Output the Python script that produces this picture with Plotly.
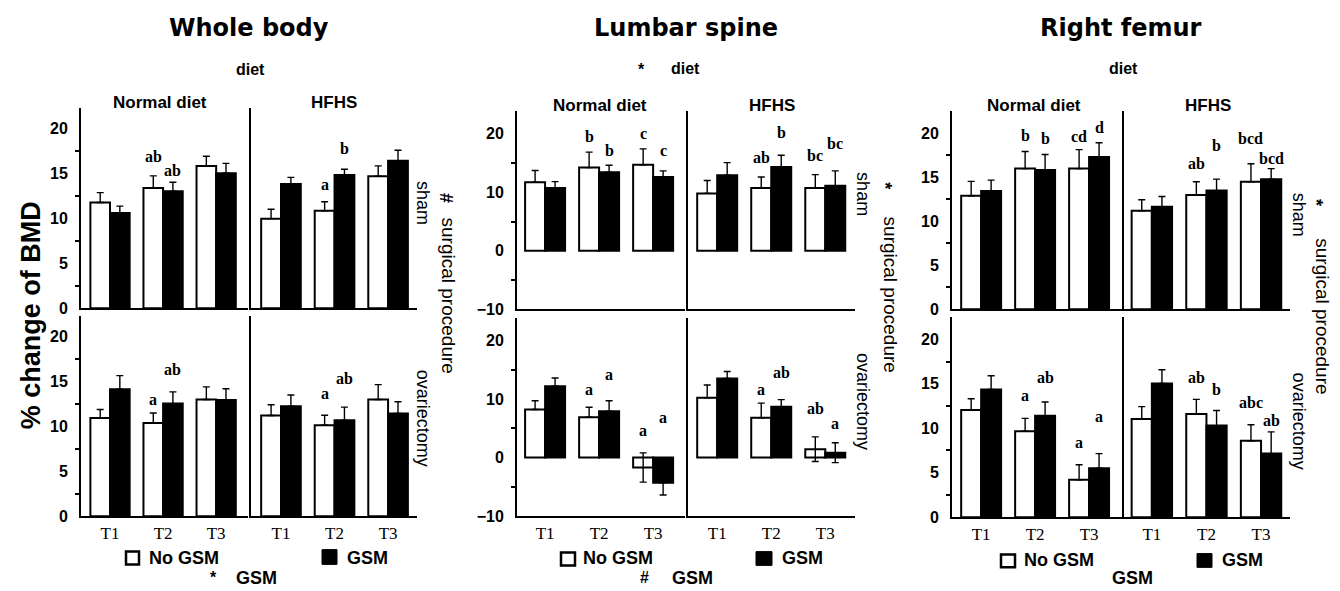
import plotly.graph_objects as go

W, H = 1340, 591
TIMES = ["T1", "T2", "T3"]
SANS = "Liberation Sans, Arial, sans-serif"
VERD = "DejaVu Sans, Verdana, sans-serif"
SERIF = "Liberation Serif, Times New Roman, serif"

# ---------------- data: Whole body ----------------
wb_sham_nd_no = [11.75, 13.36, 15.8];   wb_sham_nd_no_err = [1.1, 1.35, 1.1]
wb_sham_nd_gsm = [10.6, 13.0, 15.0];    wb_sham_nd_gsm_err = [0.75, 1.0, 1.1]
wb_sham_hf_no = [9.96, 10.84, 14.67];   wb_sham_hf_no_err = [1.05, 1.0, 1.15]
wb_sham_hf_gsm = [13.8, 14.8, 16.4];    wb_sham_hf_gsm_err = [0.75, 0.65, 1.15]
wb_ovx_nd_no = [10.9, 10.33, 12.96];    wb_ovx_nd_no_err = [0.95, 1.13, 1.4]
wb_ovx_nd_gsm = [14.1, 12.5, 12.9];     wb_ovx_nd_gsm_err = [1.5, 1.3, 1.25]
wb_ovx_hf_no = [11.17, 10.1, 12.96];    wb_ovx_hf_no_err = [1.2, 1.1, 1.65]
wb_ovx_hf_gsm = [12.2, 10.66, 11.4];    wb_ovx_hf_gsm_err = [1.25, 1.45, 1.3]
wb_sham_nd_no_lab = ["", "ab", ""];  wb_sham_nd_gsm_lab = ["", "ab", ""]
wb_sham_hf_no_lab = ["", "a", ""];   wb_sham_hf_gsm_lab = ["", "b", ""]
wb_ovx_nd_no_lab = ["", "a", ""];    wb_ovx_nd_gsm_lab = ["", "ab", ""]
wb_ovx_hf_no_lab = ["", "a", ""];    wb_ovx_hf_gsm_lab = ["", "ab", ""]

# ---------------- data: Lumbar spine ----------------
ls_sham_nd_no = [11.7, 14.2, 14.7];     ls_sham_nd_no_err = [2.0, 2.65, 2.7]
ls_sham_nd_gsm = [10.7, 13.4, 12.6];    ls_sham_nd_gsm_err = [1.1, 1.2, 1.05]
ls_sham_hf_no = [9.8, 10.7, 10.7];      ls_sham_hf_no_err = [2.2, 1.9, 2.3]
ls_sham_hf_gsm = [12.9, 14.3, 11.1];    ls_sham_hf_gsm_err = [2.15, 2.0, 2.55]
ls_ovx_nd_no = [8.2, 6.9, -1.7];        ls_ovx_nd_no_err = [1.5, 1.7, 2.5];   ls_ovx_nd_no_errlo = [0, 0, 2.5]
ls_ovx_nd_gsm = [12.2, 7.9, -4.3];      ls_ovx_nd_gsm_err = [1.4, 1.8, 0];    ls_ovx_nd_gsm_errlo = [0, 0, 2.1]
ls_ovx_hf_no = [10.2, 6.8, 1.44];       ls_ovx_hf_no_err = [2.2, 2.5, 2.1];   ls_ovx_hf_no_errlo = [0, 0, 2.1]
ls_ovx_hf_gsm = [13.5, 8.7, 0.83];      ls_ovx_hf_gsm_err = [1.2, 1.2, 1.7];  ls_ovx_hf_gsm_errlo = [0, 0, 1.7]
ls_sham_nd_no_lab = ["", "b", "c"];   ls_sham_nd_gsm_lab = ["", "b", "c"]
ls_sham_hf_no_lab = ["", "ab", "bc"]; ls_sham_hf_gsm_lab = ["", "b", "bc"]
ls_ovx_nd_no_lab = ["", "a", "a"];    ls_ovx_nd_gsm_lab = ["", "a", "a"]
ls_ovx_hf_no_lab = ["", "a", "ab"];   ls_ovx_hf_gsm_lab = ["", "ab", "a"]

# ---------------- data: Right femur ----------------
rf_sham_nd_no = [12.9, 16.0, 16.0];     rf_sham_nd_no_err = [1.65, 1.95, 2.15]
rf_sham_nd_gsm = [13.44, 15.85, 17.33]; rf_sham_nd_gsm_err = [1.25, 1.75, 1.6]
rf_sham_hf_no = [11.2, 13.0, 14.5];     rf_sham_hf_no_err = [1.25, 1.5, 2.05]
rf_sham_hf_gsm = [11.67, 13.5, 14.8];   rf_sham_hf_gsm_err = [1.15, 1.3, 1.2]
rf_ovx_nd_no = [12.07, 9.67, 4.2];      rf_ovx_nd_no_err = [1.25, 1.45, 1.7]
rf_ovx_nd_gsm = [14.37, 11.4, 5.5];     rf_ovx_nd_gsm_err = [1.55, 1.55, 1.65]
rf_ovx_hf_no = [11.04, 11.6, 8.6];      rf_ovx_hf_no_err = [1.4, 1.65, 1.8]
rf_ovx_hf_gsm = [15.04, 10.3, 7.15];    rf_ovx_hf_gsm_err = [1.55, 1.7, 2.45]
rf_sham_nd_no_lab = ["", "b", "cd"];   rf_sham_nd_gsm_lab = ["", "b", "d"]
rf_sham_hf_no_lab = ["", "ab", "bcd"]; rf_sham_hf_gsm_lab = ["", "b", "bcd"]
rf_ovx_nd_no_lab = ["", "a", "a"];     rf_ovx_nd_gsm_lab = ["", "ab", "a"]
rf_ovx_hf_no_lab = ["", "ab", "abc"];  rf_ovx_hf_gsm_lab = ["", "b", "ab"]

# ---------------- letter placement (annotation heights, data units) ----------------
wb_sham_nd_laby = ([0, 16.9, 0], [0, 15.3, 0]); wb_sham_hf_laby = ([0, 13.8, 0], [0, 17.8, 0])
wb_ovx_nd_laby = ([0, 12.9, 0], [0, 16.3, 0]);  wb_ovx_hf_laby = ([0, 13.6, 0], [0, 15.3, 0])
ls_sham_nd_laby = ([0, 19.5, 20.1], [0, 17.2, 17.2]); ls_sham_hf_laby = ([0, 15.9, 16.2], [0, 20.2, 18.3])
ls_ovx_nd_laby = ([0, 11.6, 4.6], [0, 14.2, 6.8]);    ls_ovx_hf_laby = ([0, 11.6, 8.3], [0, 14.6, 5.8])
rf_sham_nd_laby = ([0, 19.8, 19.7], [0, 19.4, 20.7]); rf_sham_hf_laby = ([0, 16.6, 19.4], [0, 18.6, 17.2])
rf_ovx_nd_laby = ([0, 13.7, 8.4], [0, 15.7, 11.3]);   rf_ovx_hf_laby = ([0, 15.7, 12.9], [0, 14.4, 10.85])

Z = [0, 0, 0]
# (site, row, diet, no, no_up, no_lo, gsm, gsm_up, gsm_lo, no_lab, gsm_lab, laby)
panels = [
    (0, 0, 0, wb_sham_nd_no, wb_sham_nd_no_err, Z, wb_sham_nd_gsm, wb_sham_nd_gsm_err, Z, wb_sham_nd_no_lab, wb_sham_nd_gsm_lab, wb_sham_nd_laby),
    (0, 0, 1, wb_sham_hf_no, wb_sham_hf_no_err, Z, wb_sham_hf_gsm, wb_sham_hf_gsm_err, Z, wb_sham_hf_no_lab, wb_sham_hf_gsm_lab, wb_sham_hf_laby),
    (0, 1, 0, wb_ovx_nd_no, wb_ovx_nd_no_err, Z, wb_ovx_nd_gsm, wb_ovx_nd_gsm_err, Z, wb_ovx_nd_no_lab, wb_ovx_nd_gsm_lab, wb_ovx_nd_laby),
    (0, 1, 1, wb_ovx_hf_no, wb_ovx_hf_no_err, Z, wb_ovx_hf_gsm, wb_ovx_hf_gsm_err, Z, wb_ovx_hf_no_lab, wb_ovx_hf_gsm_lab, wb_ovx_hf_laby),
    (1, 0, 0, ls_sham_nd_no, ls_sham_nd_no_err, Z, ls_sham_nd_gsm, ls_sham_nd_gsm_err, Z, ls_sham_nd_no_lab, ls_sham_nd_gsm_lab, ls_sham_nd_laby),
    (1, 0, 1, ls_sham_hf_no, ls_sham_hf_no_err, Z, ls_sham_hf_gsm, ls_sham_hf_gsm_err, Z, ls_sham_hf_no_lab, ls_sham_hf_gsm_lab, ls_sham_hf_laby),
    (1, 1, 0, ls_ovx_nd_no, ls_ovx_nd_no_err, ls_ovx_nd_no_errlo, ls_ovx_nd_gsm, ls_ovx_nd_gsm_err, ls_ovx_nd_gsm_errlo, ls_ovx_nd_no_lab, ls_ovx_nd_gsm_lab, ls_ovx_nd_laby),
    (1, 1, 1, ls_ovx_hf_no, ls_ovx_hf_no_err, ls_ovx_hf_no_errlo, ls_ovx_hf_gsm, ls_ovx_hf_gsm_err, ls_ovx_hf_gsm_errlo, ls_ovx_hf_no_lab, ls_ovx_hf_gsm_lab, ls_ovx_hf_laby),
    (2, 0, 0, rf_sham_nd_no, rf_sham_nd_no_err, Z, rf_sham_nd_gsm, rf_sham_nd_gsm_err, Z, rf_sham_nd_no_lab, rf_sham_nd_gsm_lab, rf_sham_nd_laby),
    (2, 0, 1, rf_sham_hf_no, rf_sham_hf_no_err, Z, rf_sham_hf_gsm, rf_sham_hf_gsm_err, Z, rf_sham_hf_no_lab, rf_sham_hf_gsm_lab, rf_sham_hf_laby),
    (2, 1, 0, rf_ovx_nd_no, rf_ovx_nd_no_err, Z, rf_ovx_nd_gsm, rf_ovx_nd_gsm_err, Z, rf_ovx_nd_no_lab, rf_ovx_nd_gsm_lab, rf_ovx_nd_laby),
    (2, 1, 1, rf_ovx_hf_no, rf_ovx_hf_no_err, Z, rf_ovx_hf_gsm, rf_ovx_hf_gsm_err, Z, rf_ovx_hf_no_lab, rf_ovx_hf_gsm_lab, rf_ovx_hf_laby),
]

# ---------------- layout geometry (pixels) ----------------
SITE_X = {0: [(73, 240), (243, 409)], 1: [(509, 677), (680, 847)], 2: [(944, 1114), (1116, 1282)]}
SITE_Y = {0: [(102, 305), (313, 516)], 1: [(105, 306), (315, 516)], 2: [(105, 306), (314, 517)]}
XR = {0: [(-0.547, 2.6), (-0.56, 2.54)], 1: [(-0.52, 2.59), (-0.54, 2.55)], 2: [(-0.54, 2.61), (-0.51, 2.53)]}
YR = {0: (0, 22.2), 1: (-10, 23.8), 2: (0, 22.5)}
YTICKS = {0: [0, 5, 10, 15, 20], 1: [-10, 0, 10, 20], 2: [0, 5, 10, 15, 20]}
YMINOR = {0: [2.5, 7.5, 12.5, 17.5], 1: [-5, 5, 15], 2: [2.5, 7.5, 12.5, 17.5]}
XS = list(range(len(TIMES)))
OFF = 0.185


def px(x):
    return x / W


def py(y):
    return 1 - y / H


fig = go.Figure()
layout = {}
annotations = []

for k, (s, r, d, no, no_up, no_lo, gsm, gsm_up, gsm_lo, no_lab, gsm_lab, laby) in enumerate(panels, start=1):
    xa, ya = f"x{k}", f"y{k}"
    for vals, up, lo, fill in ((no, no_up, no_lo, "white"), (gsm, gsm_up, gsm_lo, "black")):
        fig.add_trace(go.Bar(
            x=XS, y=vals, xaxis=xa, yaxis=ya, showlegend=False,
            marker=dict(color=fill, line=dict(color="black", width=2)),
            error_y=dict(type="data", symmetric=False, array=up, arrayminus=lo,
                         color="black", thickness=1.4, width=3.5),
        ))
    x0, x1 = SITE_X[s][d]
    y0, y1 = SITE_Y[s][r]
    layout[f"xaxis{k}"] = dict(
        domain=[px(x0), px(x1)], range=list(XR[s][d]), anchor=ya,
        showline=True, linecolor="black", linewidth=2, ticks="",
        tickvals=XS, ticktext=TIMES, showticklabels=(r == 1),
        showgrid=False, zeroline=False, fixedrange=True,
        tickfont=dict(family=SERIF, size=17, color="black"),
    )
    yax = dict(
        domain=[py(y1), py(y0)], range=list(YR[s]), anchor=xa,
        showline=True, linecolor="black", linewidth=2,
        showgrid=False, zeroline=False, fixedrange=True,
        tickvals=YTICKS[s], showticklabels=(d == 0), ticks="",
        tickfont=dict(family=SANS, size=16, color="black", weight="bold"),
        ticklabelstandoff=8,
    )
    if d == 0:
        yax["minor"] = dict(tickvals=YMINOR[s], ticks="outside", ticklen=4,
                            tickwidth=2, tickcolor="black", showgrid=False)
    layout[f"yaxis{k}"] = yax
    for labs, ys, sgn in ((no_lab, laby[0], -1), (gsm_lab, laby[1], 1)):
        for i, t in enumerate(labs):
            if t:
                annotations.append(dict(
                    x=XS[i] + sgn * OFF, y=ys[i], xref=xa, yref=ya, text=t,
                    showarrow=False, xanchor="center", yanchor="middle",
                    font=dict(family=SERIF, size=16, color="black", weight="bold"),
                ))


def txt(x, y, t, size, family=SANS, bold=True, angle=0, xanchor="center", pad=1):
    annotations.append(dict(
        x=px(x), y=py(y), xref="paper", yref="paper", text=t, showarrow=False,
        xanchor=xanchor, yanchor="middle", textangle=angle, borderpad=pad,
        font=dict(family=family, size=size, color="black", weight="bold" if bold else "normal"),
    ))


# titles
txt(241, 20, "Whole body", 24, VERD)
txt(678, 20, "Lumbar spine", 24, VERD)
txt(1113, 20, "Right femur", 24, VERD)
# diet headings
txt(242, 62, "diet", 16)
txt(633, 62, "*", 16)
txt(678, 61, "diet", 16)
txt(1115, 61, "diet", 16)
# facet headings
for cx_nd, cx_hf, yy in ((152, 326, 96), (592, 764, 99), (1026, 1200, 99)):
    txt(cx_nd, yy, "Normal diet", 17)
    txt(cx_hf, yy, "HFHS", 17)
# y-axis title
txt(23, 312, "% change of BMD", 27, angle=-90)
# right-hand row labels
for xs_, xp, xsym, sym, ysham, yovx, ysym, ysp in ((415, 440, 438, "#", 198, 416, 193, 292),
                                                   (855, 882, 877, "*", 189, 399, 180, 291),
                                                   (1291, 1315, 1308, "*", 210, 419, 197, 313)):
    txt(xs_, ysham, "sham", 18, bold=False, angle=90)
    txt(xs_, yovx, "ovariectomy", 18, bold=False, angle=90)
    txt(xsym, ysym, sym, 18, bold=True, angle=90)
    txt(xp, ysp, "surgical procedure", 19, bold=False, angle=90)

# legends
shapes = []
for (wx0, wx1, wy0, wy1), (bx0, bx1, by0, by1), tno, tg, ly in (
        ((118, 131, 552, 565), (314, 329, 550, 565), 139, 337, 558),
        ((553, 567, 553, 566), (748, 764, 552, 566), 573, 772, 559),
        ((993, 1007, 555, 568), (1189, 1204, 554, 568), 1014, 1212, 561)):
    shapes.append(dict(type="rect", xref="paper", yref="paper", x0=px(wx0), x1=px(wx1),
                       y0=py(wy1), y1=py(wy0), fillcolor="white", line=dict(color="black", width=2.5)))
    shapes.append(dict(type="rect", xref="paper", yref="paper", x0=px(bx0), x1=px(bx1),
                       y0=py(by1), y1=py(by0), fillcolor="black", line=dict(color="black", width=1)))
    txt(tno, ly, "No GSM", 18, xanchor="left")
    txt(tg, ly, "GSM", 18, xanchor="left")

txt(205, 578, "*", 16, pad=0)
txt(227, 579, "GSM", 18, xanchor="left", pad=0)
txt(636, 578, "#", 16, pad=0)
txt(663, 579, "GSM", 18, xanchor="left", pad=0)
txt(1103, 579, "GSM", 18, xanchor="left", pad=0)

fig.update_layout(
    width=W, height=H, margin=dict(l=0, r=0, t=0, b=0),
    paper_bgcolor="white", plot_bgcolor="white",
    barmode="group", bargap=0.26, bargroupgap=0,
    annotations=annotations, shapes=shapes, showlegend=False,
    **layout,
)

fig.write_html("out.html", config={"displayModeBar": False})
